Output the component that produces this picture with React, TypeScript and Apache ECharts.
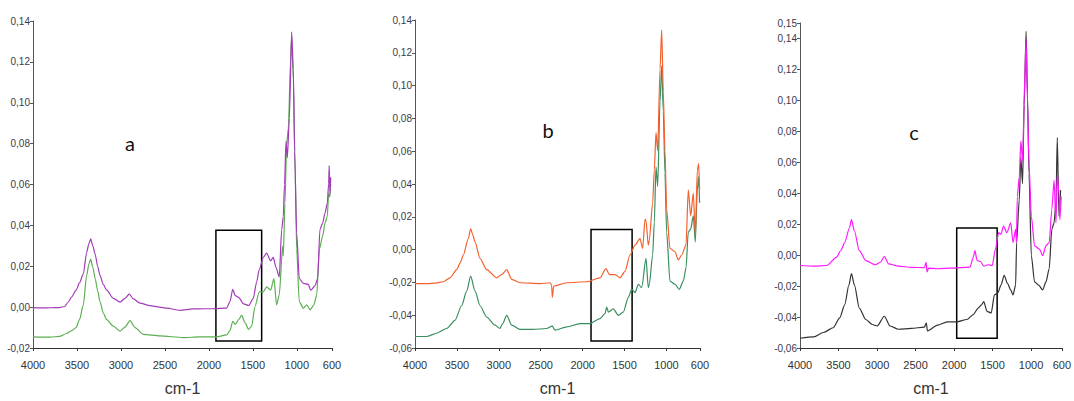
import React, { useEffect, useRef } from "react";
import * as echarts from "echarts";

// ---- data (wavenumber cm-1, absorbance) ----
const xTicks = [4000, 3500, 3000, 2500, 2000, 1500, 1000, 600];
const yTicksA = [-0.02, 0, 0.02, 0.04, 0.06, 0.08, 0.1, 0.12, 0.14];
const yTicksB = [-0.06, -0.04, -0.02, 0, 0.02, 0.04, 0.06, 0.08, 0.1, 0.12, 0.14];
const yTicksC = [-0.06, -0.04, -0.02, 0, 0.02, 0.04, 0.06, 0.08, 0.1, 0.12, 0.14, 0.15];
const panelLabels = ["a", "b", "c"];

const aPurple: [number, number][] = [
  [4000, -0.0002], [3900, -0.0004], [3800, -0.0003], [3700, -0.0002], [3640, 0.0003], [3600, 0.0025],
  [3560, 0.005], [3510, 0.0083], [3470, 0.012], [3428, 0.0163], [3390, 0.0267], [3365, 0.031],
  [3344, 0.0334], [3320, 0.03], [3293, 0.0259], [3265, 0.02], [3238, 0.0155], [3200, 0.011],
  [3162, 0.0083], [3087, 0.0043], [3010, 0.0024], [2954, 0.0043], [2905, 0.0064], [2859, 0.004],
  [2783, 0.002], [2670, 0.0007], [2560, 0.0], [2480, -0.0005], [2329, -0.0016], [2177, -0.0009],
  [2050, -0.0008], [1950, -0.0008], [1798, -0.0005], [1760, 0.0027], [1729, 0.0087], [1700, 0.0056],
  [1662, 0.0048], [1605, 0.0016], [1548, 0.0008], [1495, 0.0043], [1457, 0.0123], [1427, 0.0184],
  [1381, 0.0243], [1343, 0.0264], [1298, 0.0227], [1268, 0.0243], [1237, 0.0195], [1200, 0.0147],
  [1172, 0.038], [1154, 0.0443], [1140, 0.06], [1123, 0.0812], [1108, 0.0731], [1085, 0.0923],
  [1059, 0.1347], [1040, 0.1163], [1025, 0.0763], [1002, 0.0363], [972, 0.014], [926, 0.0116],
  [870, 0.0111], [843, 0.0083], [794, 0.0104], [763, 0.014], [737, 0.038], [706, 0.0411],
  [680, 0.0459], [654, 0.0507], [638, 0.0603], [632, 0.0692], [623, 0.0555], [615, 0.0635],
];
const aGreen: [number, number][] = [
  [4000, -0.0146], [3900, -0.0147], [3800, -0.0147], [3700, -0.0143], [3617, -0.0129], [3560, -0.0115],
  [3510, -0.01], [3470, -0.006], [3428, 0.0011], [3390, 0.0155], [3365, 0.021], [3344, 0.0235],
  [3320, 0.0195], [3293, 0.0139], [3265, 0.008], [3238, 0.0027], [3200, -0.003], [3162, -0.0061],
  [3087, -0.0093], [3010, -0.0117], [2954, -0.0098], [2897, -0.0066], [2840, -0.01], [2746, -0.0133],
  [2556, -0.0141], [2291, -0.0149], [2101, -0.0146], [1911, -0.0146], [1798, -0.0136], [1760, -0.0115],
  [1729, -0.0069], [1700, -0.0085], [1662, -0.0061], [1627, -0.004], [1590, -0.0076], [1548, -0.0109],
  [1514, -0.0093], [1476, 0.0003], [1427, 0.0075], [1381, 0.0075], [1343, 0.0099], [1298, 0.0083],
  [1260, 0.0139], [1230, 0.0011], [1200, 0.0059], [1161, 0.0299], [1154, 0.0251], [1135, 0.0507],
  [1116, 0.0795], [1097, 0.0875], [1070, 0.1211], [1059, 0.1323], [1040, 0.1115], [1018, 0.0651],
  [1002, 0.0283], [972, 0.0027], [926, -0.0005], [888, 0.0011], [850, -0.0013], [805, 0.0011],
  [774, 0.0059], [744, 0.0283], [706, 0.0347], [680, 0.0411], [654, 0.0443], [638, 0.0555],
  [623, 0.0539], [615, 0.0603],
];
const bOrange: [number, number][] = [
  [4000, -0.0208], [3861, -0.0208], [3750, -0.0204], [3662, -0.0196], [3582, -0.0172], [3503, -0.0122],
  [3460, -0.008], [3424, -0.0033], [3364, 0.0067], [3336, 0.0127], [3310, 0.009], [3284, 0.0047],
  [3225, -0.0053], [3145, -0.0122], [3025, -0.0172], [2966, -0.0152], [2906, -0.0122], [2846, -0.0182],
  [2747, -0.0202], [2509, -0.0208], [2390, -0.0202], [2370, -0.0215], [2362, -0.0291], [2345, -0.0222],
  [2190, -0.0202], [1951, -0.0196], [1793, -0.0172], [1721, -0.0116], [1682, -0.0152], [1614, -0.0152],
  [1554, -0.0172], [1495, -0.0133], [1435, -0.0033], [1375, 0.0027], [1316, 0.0067], [1284, 0.0007],
  [1256, 0.0186], [1244, 0.0176], [1217, 0.0027], [1205, 0.0057], [1165, 0.0285], [1145, 0.0485],
  [1125, 0.0713], [1105, 0.0604], [1077, 0.1101], [1057, 0.134], [1038, 0.0962], [1018, 0.0604],
  [998, 0.0246], [958, 0.0007], [898, -0.0013], [859, -0.0063], [819, -0.0033], [767, 0.0027],
  [740, 0.0365], [711, 0.0206], [680, 0.0345], [656, 0.0087], [632, 0.0485], [616, 0.0524], [605, 0.0365],
];
const bGreen: [number, number][] = [
  [4000, -0.053], [3861, -0.053], [3742, -0.051], [3622, -0.0481], [3523, -0.0431], [3443, -0.0341],
  [3383, -0.0252], [3336, -0.0162], [3284, -0.0252], [3225, -0.0341], [3145, -0.0411], [3045, -0.0461],
  [2986, -0.0481], [2954, -0.0451], [2906, -0.0401], [2846, -0.0461], [2747, -0.0487], [2589, -0.0487],
  [2429, -0.0481], [2362, -0.0467], [2330, -0.0491], [2190, -0.0471], [2031, -0.0451], [1912, -0.0451],
  [1793, -0.0421], [1733, -0.0391], [1713, -0.0351], [1693, -0.0381], [1634, -0.0361], [1574, -0.0401],
  [1515, -0.0381], [1455, -0.0291], [1415, -0.0242], [1375, -0.0262], [1336, -0.0212], [1296, -0.0232],
  [1244, -0.0053], [1217, -0.0232], [1205, -0.0212], [1165, -0.0033], [1145, 0.0166], [1125, 0.0504],
  [1105, 0.0385], [1077, 0.0903], [1057, 0.1121], [1038, 0.0843], [1018, 0.0465], [998, 0.0106],
  [958, -0.0192], [898, -0.0212], [847, -0.0242], [799, -0.0192], [767, -0.0112], [740, 0.0106],
  [711, 0.0126], [680, 0.0206], [656, 0.0047], [632, 0.0365], [616, 0.0445], [605, 0.0285],
];
const cMagenta: [number, number][] = [
  [4000, -0.0067], [3822, -0.0071], [3653, -0.0067], [3527, -0.0014], [3470, 0.003], [3420, 0.0081],
  [3357, 0.0177], [3332, 0.023], [3293, 0.0156], [3230, 0.0029], [3146, -0.0035], [3019, -0.0062],
  [2956, -0.0046], [2905, -0.001], [2849, -0.0056], [2722, -0.0071], [2553, -0.0079], [2385, -0.0081],
  [2363, -0.0046], [2350, -0.0109], [2330, -0.0084], [2214, -0.0088], [2046, -0.0084], [1792, -0.0077],
  [1750, -0.0014], [1729, 0.0029], [1700, -0.0035], [1657, -0.0041], [1614, -0.0071], [1559, -0.0062],
  [1504, -0.0067], [1462, 0.0039], [1420, 0.0145], [1390, 0.0135], [1357, 0.0187], [1314, 0.0145],
  [1263, 0.0208], [1234, 0.0081], [1200, 0.0166], [1190, 0.0081], [1178, 0.0378], [1153, 0.0505],
  [1132, 0.0738], [1110, 0.0611], [1081, 0.114], [1064, 0.1394], [1046, 0.0992], [1026, 0.0589],
  [996, 0.0251], [954, 0.006], [891, 0.0039], [849, -0.0003], [806, 0.006], [764, 0.0081],
  [730, 0.0293], [701, 0.0484], [676, 0.0208], [659, 0.0526], [637, 0.0399], [625, 0.023], [608, 0.0378],
];
const cBlack: [number, number][] = [
  [4000, -0.0537], [3822, -0.0528], [3695, -0.05], [3569, -0.0469], [3484, -0.0405], [3420, -0.0321],
  [3365, -0.0194], [3332, -0.0119], [3293, -0.0194], [3230, -0.0342], [3146, -0.0416], [3061, -0.0448],
  [2998, -0.0458], [2905, -0.0395], [2829, -0.0458], [2722, -0.0479], [2553, -0.0473], [2385, -0.0465],
  [2360, -0.0437], [2345, -0.049], [2214, -0.0452], [2088, -0.0431], [1961, -0.0431], [1834, -0.0416],
  [1750, -0.0384], [1686, -0.0342], [1643, -0.0321], [1614, -0.03], [1572, -0.0363], [1517, -0.0373],
  [1475, -0.0257], [1433, -0.0246], [1390, -0.0194], [1348, -0.013], [1306, -0.0183], [1263, -0.0225],
  [1234, -0.0257], [1200, -0.0194], [1187, 0.0081], [1153, 0.0357], [1132, 0.0632], [1110, 0.0462],
  [1089, 0.097], [1064, 0.1446], [1046, 0.1034], [1026, 0.0526], [996, -0.0003], [954, -0.0173],
  [900, -0.0194], [849, -0.0225], [806, -0.0173], [764, -0.0088], [730, 0.0166], [701, 0.0208],
  [676, 0.0335], [659, 0.0759], [637, 0.0251], [616, 0.042],
];
// highlight boxes: [wnLeft, yTop, wnRight, yBottom]
const boxA = [1920, 0.0376, 1400, -0.0166];
const boxB = [1900, 0.0122, 1410, -0.0558];
const boxC = [1965, 0.0175, 1440, -0.0537];

const tickFont = "'Liberation Sans Narrow', 'Liberation Sans', Arial, sans-serif";
const fmtY = (v: number) => (Math.abs(v) < 1e-9 ? "0,00" : v.toFixed(2).replace(".", ","));
const fmtX = (v: number) => String(Math.round(v));

export default function App() {
  const ref = useRef<HTMLDivElement>(null);
  useEffect(() => {
    if (!ref.current) return;
    const chart = echarts.init(ref.current, null, { renderer: "svg" });
    const grids = [
      { left: 33, top: 21, width: 299, height: 333 },
      { left: 415, top: 20, width: 285, height: 335 },
      { left: 800, top: 23, width: 268, height: 331 },
    ];
    const yDefs = [
      { min: -0.02, max: 0.14, ticks: yTicksA },
      { min: -0.06, max: 0.14, ticks: yTicksB },
      { min: -0.06, max: 0.15, ticks: yTicksC },
    ];
    const xAxis = grids.map((_, i) => ({
      type: "value",
      gridIndex: i,
      min: 600,
      max: 4000,
      inverse: true,
      name: "cm-1",
      nameLocation: "middle",
      nameGap: 32,
      nameTextStyle: { fontFamily: tickFont, fontSize: 16, color: "#333" },
      axisLine: { show: true, onZero: false, lineStyle: { color: "#333", width: 1 } },
      axisTick: { show: true, customValues: xTicks, length: 3, lineStyle: { color: "#333" } },
      axisLabel: { customValues: xTicks, formatter: fmtX, fontFamily: tickFont, fontSize: 11, color: "#333", margin: 11 },
      splitLine: { show: false },
    }));
    const yAxis = yDefs.map((d, i) => ({
      type: "value",
      gridIndex: i,
      min: d.min,
      max: d.max,
      axisLine: { show: true, onZero: false, lineStyle: { color: "#555", width: 1 } },
      axisTick: { show: true, customValues: d.ticks, length: 3, lineStyle: { color: "#555" } },
      axisLabel: { customValues: d.ticks, formatter: fmtY, fontFamily: tickFont, fontSize: 10, color: "#3a3a4a", margin: 3 },
      splitLine: { show: false },
    }));
    const boxArea = (b: number[]) => ({
      silent: true,
      label: { show: false },
      itemStyle: { color: "rgba(0,0,0,0)", borderColor: "#000", borderWidth: 1.5 },
      data: [[{ xAxis: b[0], yAxis: b[1] }, { xAxis: b[2], yAxis: b[3] }]],
    });
    const line = (data: [number, number][], color: string, i: number, box?: number[]) => ({
      type: "line",
      xAxisIndex: i,
      yAxisIndex: i,
      data,
      showSymbol: false,
      smooth: 0.25,
      smoothMonotone: "x",
      lineStyle: { color, width: 1.2 },
      itemStyle: { color },
      ...(box ? { markArea: boxArea(box) } : {}),
    });
    const labelStyle = { fontSize: 20, fontFamily: "Lato, 'Open Sans', sans-serif", fill: "#111", align: "center", verticalAlign: "middle" };
    chart.setOption({
      animation: false,
      backgroundColor: "#fff",
      grid: grids,
      xAxis,
      yAxis,
      series: [
        line(aGreen, "#5cae52", 0, boxA),
        line(aPurple, "#a23bb8", 0),
        line(bGreen, "#3a8f5f", 1, boxB),
        line(bOrange, "#f5602e", 1),
        line(cBlack, "#333333", 2, boxC),
        line(cMagenta, "#ff19ff", 2),
      ],
      graphic: [
        { type: "text", x: 130, y: 143, style: { ...labelStyle, text: panelLabels[0] } },
        { type: "text", x: 548, y: 130, style: { ...labelStyle, text: panelLabels[1] } },
        { type: "text", x: 914, y: 132, style: { ...labelStyle, text: panelLabels[2] } },
      ],
    });
    return () => chart.dispose();
  }, []);
  return <div ref={ref} style={{ position: "fixed", left: 0, top: 0, width: 1074, height: 401, background: "#fff" }} />;
}
